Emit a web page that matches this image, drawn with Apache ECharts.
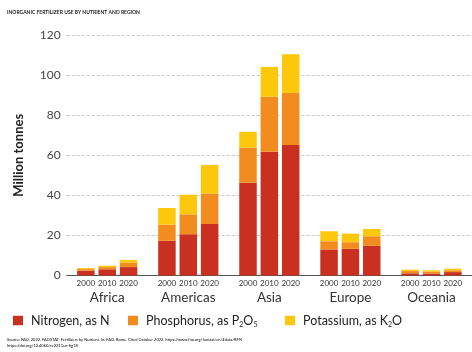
<!DOCTYPE html>
<html>
<head>
<meta charset="utf-8">
<script src="https://cdn.jsdelivr.net/npm/echarts@6/dist/echarts.min.js"></script>
<style>
  html, body { margin: 0; padding: 0; background: #fff; }
  #chart { width: 472px; height: 352px; }
</style>
</head>
<body>
<div id="chart"></div>
<script>
// Inorganic fertilizer use (million tonnes), by region and nutrient
var regions = ['Africa', 'Americas', 'Asia', 'Europe', 'Oceania'];
var years = ['2000', '2010', '2020'];

// one array per year, values per region
var nitrogen2000 = [2.4, 17.3, 46.3, 13.0, 1.1];
var nitrogen2010 = [3.1, 20.6, 61.8, 13.3, 1.0];
var nitrogen2020 = [4.2, 25.7, 65.1, 14.8, 1.7];

var phosphorus2000 = [0.8, 8.1, 17.5, 4.1, 1.1];
var phosphorus2010 = [1.1, 9.9, 27.4, 3.3, 0.9];
var phosphorus2020 = [2.2, 15.2, 26.0, 4.8, 0.9];

var potassium2000 = [0.5, 8.3, 7.9, 5.0, 0.7];
var potassium2010 = [0.7, 9.8, 14.9, 4.3, 0.7];
var potassium2020 = [1.4, 14.3, 19.3, 3.6, 0.8];

var yTicks = { min: 0, max: 120, interval: 20 };

var titleText = 'INORGANIC FERTILIZER USE BY NUTRIENT AND REGION';
var sourceText = 'Source: FAO. 2022. FAOSTAT: Fertilizers by Nutrient. In: FAO. Rome. Cited October 2022. ';
var sourceLink1 = 'https://www.fao.org/faostat/en/#data/RFN';
var sourceLink2 = 'https://doi.org/10.4060/cc2211en-fig18';

var nutrients = [
  { name: 'Nitrogen, as N', color: '#c9301f', values: [nitrogen2000, nitrogen2010, nitrogen2020],
    rich: '{t|Nitrogen, as N}' },
  { name: 'Phosphorus, as P2O5', color: '#f28c1e', values: [phosphorus2000, phosphorus2010, phosphorus2020],
    rich: '{t|Phosphorus, as P}{s|2}{t|O}{s|5}' },
  { name: 'Potassium, as K2O', color: '#fdc70c', values: [potassium2000, potassium2010, potassium2020],
    rich: '{t|Potassium, as K}{s|2}{t|O}' }
];

var FONT = 'Lato, "Noto Sans", sans-serif';

var series = [];
years.forEach(function (yr, yi) {
  nutrients.forEach(function (nu, ni) {
    series.push({
      type: 'bar',
      id: nu.name + '-' + yr,
      name: nu.name,
      stack: 'y' + yr,
      data: nu.values[yi],
      barWidth: 17.5,
      barGap: '22%',
      itemStyle: { color: nu.color },
      label: ni === 0 ? {
        show: true,
        position: 'bottom',
        distance: 4,
        formatter: yr,
        fontFamily: FONT,
        fontSize: 8,
        color: '#333'
      } : { show: false },
      emphasis: { disabled: true },
      animation: false
    });
  });
});

var legendRich = {
  t: { fontFamily: FONT, fontSize: 12.5, color: '#222', verticalAlign: 'middle', lineHeight: 16 },
  s: { fontFamily: FONT, fontSize: 7, color: '#222', verticalAlign: 'bottom', lineHeight: 16 }
};
var legendLeft = [13, 128, 285];

var legends = nutrients.map(function (nu, i) {
  return {
    data: [{ name: nu.name, icon: 'rect' }],
    left: legendLeft[i],
    top: 314,
    padding: 0,
    itemWidth: 10,
    itemHeight: 9.5,
    itemGap: 0,
    selectedMode: false,
    formatter: function () { return nu.rich; },
    textStyle: { rich: legendRich, padding: [0, 0, 0, 3] }
  };
});

var chart = echarts.init(document.getElementById('chart'), null, { renderer: 'canvas' });
chart.setOption({
  animation: false,
  backgroundColor: '#fff',
  title: {
    text: titleText,
    left: 7,
    top: 10,
    padding: 0,
    textStyle: { fontFamily: FONT, fontSize: 5, fontWeight: 'bold', color: '#222' }
  },
  legend: legends,
  grid: { left: 66.7, top: 35, width: 406, height: 240.5, containLabel: false },
  xAxis: {
    type: 'category',
    data: regions,
    axisLine: { lineStyle: { color: '#555', width: 1 } },
    axisTick: { show: false },
    axisLabel: { margin: 15, fontFamily: FONT, fontSize: 13.5, color: '#333' }
  },
  yAxis: {
    type: 'value',
    min: yTicks.min,
    max: yTicks.max,
    interval: yTicks.interval,
    name: 'Million tonnes',
    nameLocation: 'middle',
    nameGap: 41,
    nameTextStyle: { fontFamily: FONT, fontSize: 13, fontWeight: 'bold', color: '#222' },
    axisLine: { show: false },
    axisTick: { show: false },
    axisLabel: { margin: 6, fontFamily: FONT, fontSize: 12, color: '#444' },
    splitLine: { lineStyle: { color: '#bbb', type: [3, 2], width: 0.8 } }
  },
  graphic: [
    {
      type: 'text',
      left: 7,
      top: 338,
      style: {
        text: '{a|' + sourceText + '}{b|' + sourceLink1 + '}\n{b|' + sourceLink2 + '}',
        rich: {
          a: { fontFamily: FONT, fontSize: 4, color: '#333', lineHeight: 6 },
          b: { fontFamily: FONT, fontSize: 4, color: '#d03a2a', lineHeight: 6 }
        }
      }
    }
  ],
  series: series
});
</script>
</body>
</html>
